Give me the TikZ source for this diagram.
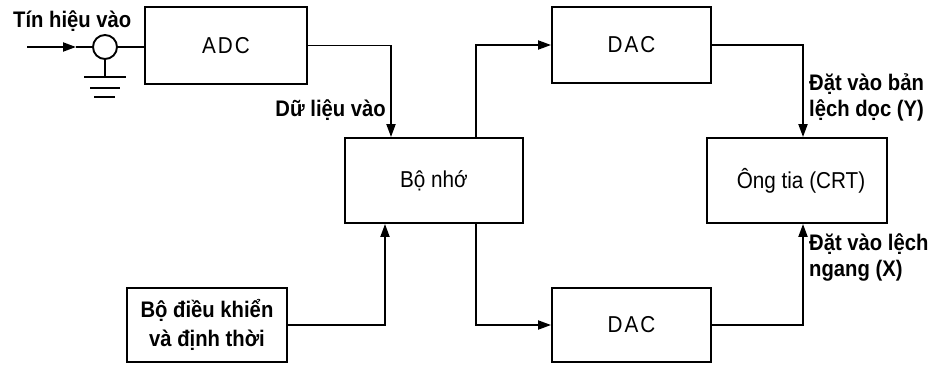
\documentclass[tikz,border=0pt]{standalone}
\usepackage{fontspec}
\setmainfont[FakeStretch=0.9]{Liberation Sans}
\usetikzlibrary{arrows.meta}
\begin{document}
\begin{tikzpicture}[x=1pt,y=-1pt,
  box/.style={draw,line width=1.9pt,inner sep=0pt,align=center,font=\fontsize{23}{28}\selectfont},
  boldbox/.style={box,font=\fontsize{22.5}{29}\selectfont\bfseries},
  lbl/.style={inner sep=0pt,align=left,font=\fontsize{22.5}{26}\selectfont\bfseries},
  wire/.style={line width=1.9pt},
  arr/.style={wire,-{Triangle[length=13pt,width=9pt]}}]
\useasboundingbox (0,0) rectangle (936,364);
% boxes
\node[box,minimum width=162pt,minimum height=77pt] (adc) at (226,45.5) {A\kern2pt D\kern2pt C};
\node[box,minimum width=178pt,minimum height=85pt] (mem) at (434,180.5) {Bộ nhớ};
\node[box,minimum width=159pt,minimum height=76pt] (dac1) at (631.5,45) {D\kern2pt A\kern2pt C};
\node[box,minimum width=180pt,minimum height=85pt] (crt) at (797,180.5) {\kern8pt Ông tia (CRT)};
\node[box,minimum width=159pt,minimum height=74pt] (dac2) at (631.5,325) {D\kern2pt A\kern2pt C};
\node[boldbox,minimum width=160pt,minimum height=74pt] (ctrl) at (207,325) {Bộ điều khiển\\và định thời};
% input
\coordinate (in) at (27,47);
\coordinate (mid) at (76,47);
\node[circle,draw,line width=1.9pt,minimum size=24pt,inner sep=0pt] (ring) at (105,47) {};
\coordinate (gnd) at (105,77);
\draw[arr] (in) -- (mid);
\draw[wire] (mid) -- (ring.west);
\draw[wire] (ring.east) -- (ring.east -| adc.west);
\draw[wire] (ring.south) -- (gnd);
\draw[wire] ([xshift=-21pt]gnd) -- ([xshift=21pt]gnd);
\draw[wire] ([xshift=-15pt,yshift=-11pt]gnd) -- ([xshift=15pt,yshift=-11pt]gnd);
\draw[wire] ([xshift=-11pt,yshift=-20pt]gnd) -- ([xshift=10pt,yshift=-20pt]gnd);
% connectors
\draw[arr] (adc.east) -| ([xshift=-43pt]mem.north);
\draw[arr] ([xshift=42pt]mem.north) |- (dac1.west);
\draw[arr] (dac1.east) -| ([xshift=6pt]crt.north);
\draw[arr] (dac2.east) -| ([xshift=6pt]crt.south);
\draw[arr] ([xshift=42pt]mem.south) |- (dac2.west);
\draw[arr] (ctrl.east) -| ([xshift=-49pt]mem.south);
% labels
\node[lbl,anchor=west] (t1) at (13,21) {Tín hiệu vào};
\node[lbl,anchor=east] (t2) at (386,110) {Dữ liệu vào};
\node[lbl,anchor=west] (t3) at (809,97) {Đặt vào bản\\lệch dọc (Y)};
\node[lbl,anchor=west] (t4) at (809,257) {Đặt vào lệch\\ngang (X)};
\end{tikzpicture}
\end{document}
